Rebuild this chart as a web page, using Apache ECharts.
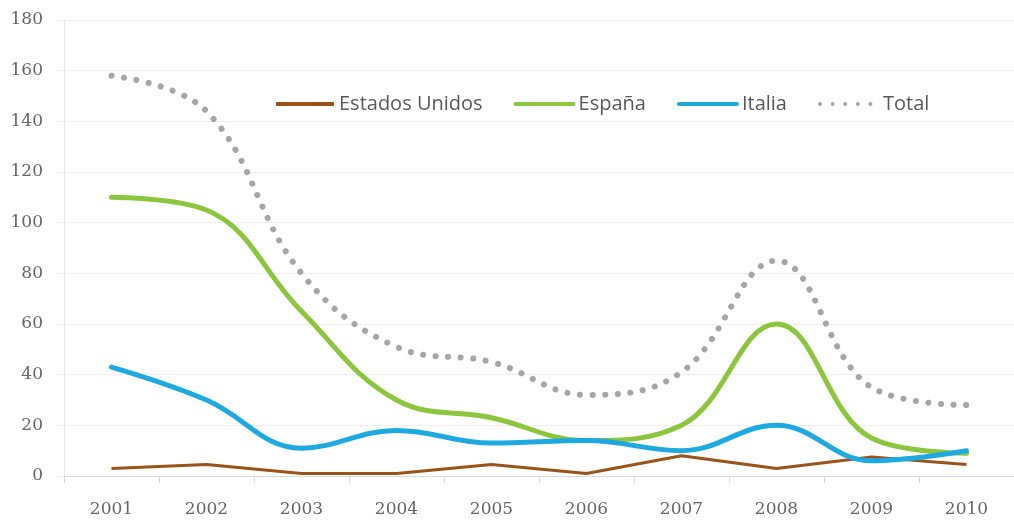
<!DOCTYPE html>
<html>
<head>
<meta charset="utf-8">
<script src="https://cdn.jsdelivr.net/npm/echarts@6/dist/echarts.min.js"></script>
<style>
  html, body { margin: 0; padding: 0; background: #ffffff; }
  #chart { width: 1014px; height: 520px; }
</style>
</head>
<body>
<div id="chart"></div>
<script>
// Years on the category axis
const years = ['2001', '2002', '2003', '2004', '2005', '2006', '2007', '2008', '2009', '2010'];

// Series values per year
const estadosUnidos = [3, 4.5, 1, 1, 4.5, 1, 8, 3, 7.5, 4.5];
const espana = [110, 105, 65, 30, 23, 14, 20, 60, 15, 9];
const italia = [43, 30, 11, 18, 13, 14, 10, 20, 6, 10];
const total = [158, 144, 80, 51, 45, 32, 41, 85, 35, 28];

const axisFont = '"DejaVu Serif", "Liberation Serif", serif';
const legendFont = '"Open Sans", "DejaVu Sans", sans-serif';
const textColor = '#666666';

const chart = echarts.init(document.getElementById('chart'), null, { renderer: 'canvas' });

chart.setOption({
  animation: false,
  backgroundColor: '#ffffff',
  grid: { left: 64, right: -10, top: 20, bottom: 44 },
  legend: {
    top: 89,
    left: 269,
    itemWidth: 58,
    itemHeight: 14,
    itemGap: 31,
    itemStyle: { opacity: 0 },
    lineStyle: { width: 4 },
    textStyle: { fontFamily: legendFont, fontSize: 20, color: '#595959' },
    data: ['Estados Unidos', 'España', 'Italia', 'Total']
  },
  xAxis: {
    type: 'category',
    data: years,
    boundaryGap: true,
    axisLine: { lineStyle: { color: '#d9d9d9', width: 1 } },
    axisTick: { show: true, length: 7, lineStyle: { color: '#d9d9d9' } },
    axisLabel: { fontFamily: axisFont, fontSize: 17, color: textColor, margin: 25 }
  },
  yAxis: {
    type: 'value',
    min: 0,
    max: 180,
    interval: 20,
    axisLine: { show: true, lineStyle: { color: '#e6e6e6' } },
    axisTick: { show: true, length: 8, lineStyle: { color: '#eeeeee' } },
    axisLabel: { fontFamily: axisFont, fontSize: 17, color: textColor, margin: 21 },
    splitLine: { lineStyle: { color: '#eeeeee', width: 1 } }
  },
  series: [
    {
      name: 'Estados Unidos',
      type: 'line',
      data: estadosUnidos,
      smooth: false,
      symbol: 'none',
      color: '#9a5419',
      lineStyle: { width: 3, color: '#9a5419' },
      z: 3
    },
    {
      name: 'España',
      type: 'line',
      data: espana,
      smooth: 0.4,
      symbol: 'none',
      color: '#8cc63f',
      lineStyle: { width: 5, color: '#8cc63f', cap: 'round' },
      z: 2
    },
    {
      name: 'Italia',
      type: 'line',
      data: italia,
      smooth: 0.4,
      symbol: 'none',
      color: '#1ea9e1',
      lineStyle: { width: 5, color: '#1ea9e1', cap: 'round' },
      z: 4
    },
    {
      name: 'Total',
      type: 'line',
      data: total,
      smooth: 0.4,
      symbol: 'none',
      color: '#a6a6a6',
      lineStyle: { width: 6, color: '#a6a6a6', type: [0.1, 12.5], cap: 'round' },
      z: 1
    }
  ]
});
</script>
</body>
</html>
